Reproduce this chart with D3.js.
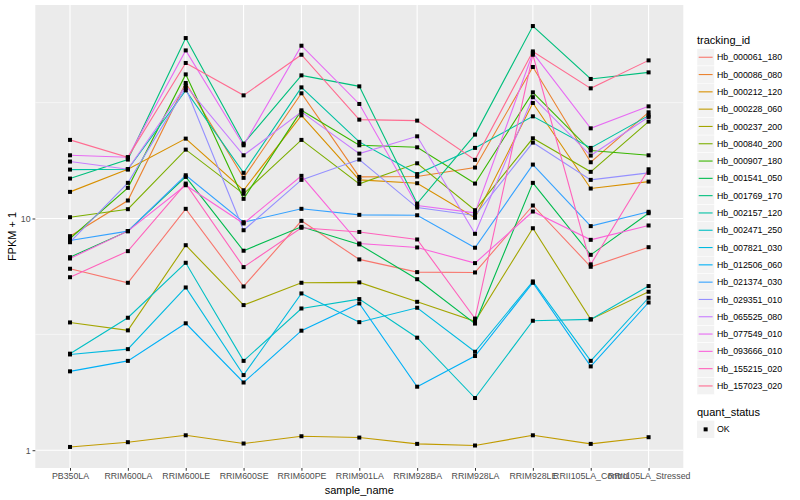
<!DOCTYPE html>
<html>
<head>
<meta charset="utf-8">
<script src="https://cdn.jsdelivr.net/npm/d3@7"></script>
<style>
  body { margin: 0; background: #fff; }
  svg { font-family: "Liberation Sans", Arial, sans-serif; }
</style>
</head>
<body>
<svg id="chart" width="800" height="500"></svg>
<script>
// samples on the x axis
var samples = ['PB350LA', 'RRIM600LA', 'RRIM600LE', 'RRIM600SE', 'RRIM600PE', 'RRIM901LA',
    'RRIM928BA', 'RRIM928LA', 'RRIM928LE', 'RRII105LA_Control', 'RRII105LA_Stressed'];

// FPKM + 1, one array per gene, in sample order
var hb_000061_180 = [6.07, 5.28, 11.01, 5.09, 9.77, 6.66, 5.87, 5.85, 11.38, 6.19, 7.52];
var hb_000086_080 = [8.39, 11.96, 38.45, 14.98, 34.7, 15.12, 15.17, 16.59, 45.07, 17.49, 28.72];
var hb_000212_120 = [13.03, 16.31, 22.12, 13.24, 27.88, 14.68, 14.20, 10.07, 31.52, 13.47, 14.43];
var hb_000228_060 = [1.033, 1.083, 1.160, 1.069, 1.149, 1.134, 1.065, 1.048, 1.160, 1.065, 1.138];
var hb_000237_200 = [3.56, 3.29, 7.67, 4.23, 5.28, 5.30, 4.37, 3.60, 9.08, 3.67, 4.83];
var hb_000840_200 = [10.13, 10.97, 19.83, 12.78, 21.84, 14.11, 17.31, 10.86, 22.19, 15.90, 26.19];
var hb_000907_180 = [8.20, 13.56, 41.88, 12.16, 29.30, 20.70, 20.29, 14.15, 35.03, 19.64, 18.74];
var hb_001541_050 = [6.81, 8.82, 15.12, 7.26, 9.21, 7.73, 5.47, 3.52, 14.25, 6.97, 10.54];
var hb_001769_170 = [14.87, 17.96, 60.09, 21.05, 41.47, 37.18, 11.60, 23.02, 67.70, 40.02, 42.72];
var hb_002157_120 = [16.26, 16.31, 35.73, 15.74, 36.81, 21.41, 15.55, 20.17, 27.60, 20.17, 27.80];
var hb_002471_250 = [2.61, 3.73, 6.44, 2.43, 4.09, 4.49, 3.06, 1.68, 3.62, 3.67, 5.11];
var hb_007821_030 = [2.59, 2.73, 5.04, 2.11, 4.75, 3.57, 4.12, 2.66, 5.35, 2.43, 4.55];
var hb_012506_060 = [2.19, 2.43, 3.53, 1.96, 3.28, 4.30, 1.88, 2.55, 5.28, 2.30, 4.34];
var hb_021374_030 = [8.04, 8.82, 15.37, 9.64, 11.01, 10.37, 10.33, 7.48, 17.09, 9.27, 10.69];
var hb_029351_010 = [7.90, 14.25, 36.60, 8.90, 14.68, 17.96, 11.15, 10.30, 21.26, 14.68, 15.74];
var hb_065525_080 = [17.61, 16.31, 37.44, 18.74, 28.84, 19.06, 22.63, 8.59, 33.39, 18.69, 27.44];
var hb_077549_010 = [18.74, 18.38, 53.14, 20.70, 55.68, 31.21, 11.38, 10.58, 51.79, 24.50, 30.48];
var hb_093666_010 = [6.72, 8.82, 13.92, 9.52, 15.28, 7.80, 7.50, 6.42, 10.72, 8.09, 9.33];
var hb_155215_020 = [5.58, 7.23, 14.15, 6.17, 9.12, 8.75, 8.12, 3.70, 50.91, 6.34, 16.31];
var hb_157023_020 = [21.84, 18.38, 46.90, 34.00, 50.91, 26.71, 26.45, 17.91, 52.61, 36.45, 48.13];

var genes = [
    ['Hb_000061_180', hb_000061_180], ['Hb_000086_080', hb_000086_080],
    ['Hb_000212_120', hb_000212_120], ['Hb_000228_060', hb_000228_060],
    ['Hb_000237_200', hb_000237_200], ['Hb_000840_200', hb_000840_200],
    ['Hb_000907_180', hb_000907_180], ['Hb_001541_050', hb_001541_050],
    ['Hb_001769_170', hb_001769_170], ['Hb_002157_120', hb_002157_120],
    ['Hb_002471_250', hb_002471_250], ['Hb_007821_030', hb_007821_030],
    ['Hb_012506_060', hb_012506_060], ['Hb_021374_030', hb_021374_030],
    ['Hb_029351_010', hb_029351_010], ['Hb_065525_080', hb_065525_080],
    ['Hb_077549_010', hb_077549_010], ['Hb_093666_010', hb_093666_010],
    ['Hb_155215_020', hb_155215_020], ['Hb_157023_020', hb_157023_020]
];

var yTicks = [1, 10, 100];
var yMinor = [Math.sqrt(10) / 10, Math.sqrt(10), Math.sqrt(10) * 10];

// ggplot hue palette for 20 levels
var palette = ['#F8766D', '#EA8331', '#D89000', '#C09B00', '#A3A500', '#7CAE00', '#39B600',
    '#00BB4E', '#00BF7D', '#00C1A3', '#00BFC4', '#00BAE0', '#00B0F6', '#35A2FF', '#9590FF',
    '#C77CFF', '#E76BF3', '#FA62DB', '#FF62BC', '#FF6C91'];

var svg = d3.select('#chart'),
    panelL = 35.3, panelR = 683.3, panelT = 5, panelB = 468,
    ptSize = 4;

var x = d3.scalePoint().domain(samples).range([panelL, panelR]).padding(0.6);

// log scale, 5% expansion in log space like ggplot
var all = [];
genes.forEach(function (g) { all = all.concat(g[1]); });
var lo = Math.log10(d3.min(all)), hi = Math.log10(d3.max(all)), pad = (hi - lo) * 0.05;
var y = d3.scaleLog().domain([Math.pow(10, lo - pad), Math.pow(10, hi + pad)]).range([panelB, panelT]);
var dom = y.domain();
function inDom(d) { return d > dom[0] && d < dom[1]; }

svg.append('rect')
    .attr('x', panelL).attr('y', panelT)
    .attr('width', panelR - panelL).attr('height', panelB - panelT)
    .attr('fill', '#EBEBEB');

var grid = svg.append('g').attr('stroke', '#fff').attr('fill', 'none');
grid.selectAll('.minor').data(yMinor.filter(inDom))
    .enter().append('line')
    .attr('x1', panelL).attr('x2', panelR)
    .attr('y1', function (d) { return y(d); }).attr('y2', function (d) { return y(d); })
    .attr('stroke-width', 0.55);
grid.selectAll('.major').data(yTicks.filter(inDom))
    .enter().append('line')
    .attr('x1', panelL).attr('x2', panelR)
    .attr('y1', function (d) { return y(d); }).attr('y2', function (d) { return y(d); })
    .attr('stroke-width', 1.1);
grid.selectAll('.vert').data(samples)
    .enter().append('line')
    .attr('y1', panelT).attr('y2', panelB)
    .attr('x1', function (d) { return x(d); }).attr('x2', function (d) { return x(d); })
    .attr('stroke-width', 1.1);

var line = d3.line()
    .x(function (d, i) { return x(samples[i]); })
    .y(function (d) { return y(d); });

svg.append('g').selectAll('path').data(genes)
    .enter().append('path')
    .attr('d', function (g) { return line(g[1]); })
    .attr('fill', 'none')
    .attr('stroke', function (g, i) { return palette[i]; })
    .attr('stroke-width', 1.1);

var pts = svg.append('g');
genes.forEach(function (g) {
    pts.selectAll(null).data(g[1])
        .enter().append('rect')
        .attr('x', function (d, i) { return x(samples[i]) - ptSize / 2; })
        .attr('y', function (d) { return y(d) - ptSize / 2; })
        .attr('width', ptSize).attr('height', ptSize)
        .attr('fill', '#000');
});

// axes
var yAxis = d3.axisLeft(y).tickValues(yTicks.filter(inDom))
    .tickFormat(d3.format('d')).tickSize(2.75).tickPadding(2);
var gy = svg.append('g').attr('transform', 'translate(' + panelL + ',0)').call(yAxis);
var xAxis = d3.axisBottom(x).tickSize(2.75).tickPadding(2);
var gx = svg.append('g').attr('transform', 'translate(0,' + panelB + ')').call(xAxis);
[gy, gx].forEach(function (g) {
    g.select('.domain').remove();
    g.selectAll('.tick line').attr('stroke', '#333').attr('stroke-width', 1);
    g.selectAll('.tick text').attr('fill', '#4D4D4D').style('font-size', '8.8px')
        .style('font-family', '"Liberation Sans", Arial, sans-serif');
});

svg.append('text')
    .attr('x', (panelL + panelR) / 2).attr('y', 494)
    .attr('text-anchor', 'middle').style('font-size', '11px')
    .text('sample_name');
svg.append('text')
    .attr('transform', 'translate(16,' + (panelT + panelB) / 2 + ') rotate(-90)')
    .attr('text-anchor', 'middle').style('font-size', '11px')
    .text('FPKM + 1');

// legend
var lg = svg.append('g').attr('transform', 'translate(697,0)');
lg.append('text').attr('x', 0).attr('y', 44).style('font-size', '11px').text('tracking_id');
var keys = lg.selectAll('.key').data(genes).enter().append('g')
    .attr('transform', function (g, i) { return 'translate(0,' + (48.6 + i * 17.3) + ')'; });
keys.append('rect').attr('width', 17.3).attr('height', 17.3)
    .attr('fill', '#F2F2F2').attr('stroke', '#fff').attr('stroke-width', 0.5);
keys.append('line').attr('x1', 1.7).attr('x2', 15.6).attr('y1', 8.65).attr('y2', 8.65)
    .attr('stroke', function (g, i) { return palette[i]; }).attr('stroke-width', 1.1);
keys.append('text').attr('x', 20).attr('y', 11.8).style('font-size', '8.8px')
    .text(function (g) { return g[0]; });

lg.append('text').attr('x', 0).attr('y', 416).style('font-size', '11px').text('quant_status');
var ok = lg.append('g').attr('transform', 'translate(0,420.7)');
ok.append('rect').attr('width', 17.3).attr('height', 17.3).attr('fill', '#F2F2F2');
ok.append('rect').attr('x', 8.65 - ptSize / 2).attr('y', 8.65 - ptSize / 2)
    .attr('width', ptSize).attr('height', ptSize).attr('fill', '#000');
ok.append('text').attr('x', 20).attr('y', 11.8).style('font-size', '8.8px').text('OK');
</script>
</body>
</html>
